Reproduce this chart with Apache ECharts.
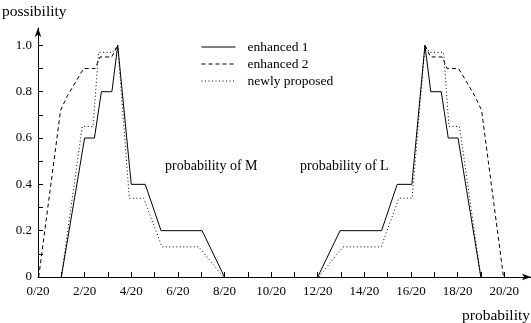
<!DOCTYPE html>
<html>
<head>
<meta charset="utf-8">
<script src="https://cdn.jsdelivr.net/npm/echarts@6/dist/echarts.min.js"></script>
<style>
html,body{margin:0;padding:0;background:#fff;}
#c{width:531px;height:323px;}
</style>
</head>
<body>
<div id="c"></div>
<script>
// x values in units of 1/20
var seriesNames = ['enhanced 1', 'enhanced 2', 'newly proposed'];

var enh1X = [1.0, 2.0, 2.42, 2.72, 3.17, 3.42, 4.0, 4.6, 5.28, 7.04, 8.0, null, 12.0, 12.96, 14.74, 15.41, 16.04, 16.6, 16.85, 17.3, 17.6, 18.02, 19.0];
var enh1Y = [0, 0.6, 0.6, 0.8, 0.8, 1.0, 0.4, 0.4, 0.2, 0.2, 0, null, 0, 0.2, 0.2, 0.4, 0.4, 1.0, 0.8, 0.8, 0.6, 0.6, 0];

var enh2X = [0.03, 0.97, 1.25, 1.6, 1.96, 2.45, 2.66, 3.16, 3.42, null, 16.6, 16.84, 17.34, 17.55, 18.04, 18.4, 18.75, 19.03, 19.97];
var enh2Y = [0, 0.72, 0.78, 0.84, 0.9, 0.9, 0.95, 0.95, 1.0, null, 1.0, 0.95, 0.95, 0.9, 0.9, 0.84, 0.78, 0.72, 0];

var newX = [1.0, 1.9, 2.36, 2.6, 3.2, 3.42, 3.92, 4.53, 5.32, 6.9, 7.95, null, 12.05, 13.08, 14.72, 15.48, 16.05, 16.6, 16.8, 17.4, 17.63, 18.08, 19.0];
var newY = [0, 0.65, 0.65, 0.97, 0.97, 1.0, 0.34, 0.34, 0.13, 0.13, 0, null, 0, 0.13, 0.13, 0.34, 0.34, 1.0, 0.97, 0.97, 0.65, 0.65, 0];

var xTickValues = [0,1,2,3,4,5,6,7,8,9,10,11,12,13,14,15,16,17,18,19,20];
var xLabelValues = [0,2,4,6,8,10,12,14,16,18,20];
var yTickValues = [0,0.1,0.2,0.3,0.4,0.5,0.6,0.7,0.8,0.9,1.0];
var yLabelValues = [0,0.2,0.4,0.6,0.8,1.0];

var yAxisTitle = 'possibility';
var xAxisTitle = 'probability';
var noteM = 'probability of M';
var noteL = 'probability of L';

function pairs(xs, ys) {
  var out = [];
  for (var i = 0; i < xs.length; i++) {
    out.push(xs[i] === null ? [null, null] : [xs[i], ys[i]]);
  }
  return out;
}

var FONT = 'Liberation Serif';
var chart = echarts.init(document.getElementById('c'), null, {renderer: 'canvas'});
chart.setOption({
  animation: false,
  backgroundColor: '#fff',
  grid: {left: 38, right: 0, top: 28, bottom: 46},
  xAxis: {
    type: 'value', min: 0, max: 21.15,
    axisLine: {show: true, lineStyle: {color: '#000', width: 1}, symbol: ['none', 'arrow'], symbolSize: [5, 9]},
    axisTick: {show: true, inside: true, length: 5, lineStyle: {color: '#000'}, customValues: xTickValues},
    axisLabel: {color: '#000', fontFamily: FONT, fontSize: 13, margin: 8, customValues: xLabelValues,
      formatter: function (v) { return v + '/20'; }},
    splitLine: {show: false}
  },
  yAxis: {
    type: 'value', min: 0, max: 1.075,
    axisLine: {show: true, lineStyle: {color: '#000', width: 1}, symbol: ['none', 'arrow'], symbolSize: [5, 9]},
    axisTick: {show: true, inside: true, length: 5, lineStyle: {color: '#000'}, customValues: yTickValues},
    axisLabel: {color: '#000', fontFamily: FONT, fontSize: 13, margin: 6, customValues: yLabelValues,
      formatter: function (v) { return v === 0 ? '0' : v.toFixed(1); }},
    splitLine: {show: false}
  },
  legend: {
    orient: 'vertical', left: 201, top: 40, padding: 0,
    itemWidth: 34, itemHeight: 11, itemGap: 3,
    itemStyle: {opacity: 0},
    lineStyle: {width: 1},
    textStyle: {color: '#000', fontFamily: FONT, fontSize: 13.5, lineHeight: 14, padding: [0, 0, 0, 7]},
    data: seriesNames
  },
  graphic: [
    {type: 'text', left: 2, top: 4, style: {text: yAxisTitle, font: '15.5px "Liberation Serif"', fill: '#000'}},
    {type: 'text', right: 1, top: 308, style: {text: xAxisTitle, font: '15.5px "Liberation Serif"', fill: '#000'}},
    {type: 'text', left: 165, top: 159, style: {text: noteM, font: '14px "Liberation Serif"', fill: '#000'}},
    {type: 'text', left: 300, top: 159, style: {text: noteL, font: '14px "Liberation Serif"', fill: '#000'}}
  ],
  series: [
    {name: seriesNames[0], type: 'line', symbol: 'none', connectNulls: false,
      lineStyle: {color: '#000', width: 1, type: 'solid'}, itemStyle: {color: '#000'},
      data: pairs(enh1X, enh1Y)},
    {name: seriesNames[1], type: 'line', symbol: 'none', connectNulls: false,
      lineStyle: {color: '#000', width: 1, type: [4, 3]}, itemStyle: {color: '#000'},
      data: pairs(enh2X, enh2Y)},
    {name: seriesNames[2], type: 'line', symbol: 'none', connectNulls: false,
      lineStyle: {color: '#000', width: 1, type: [1, 2.5]}, itemStyle: {color: '#000'},
      data: pairs(newX, newY)}
  ]
});
</script>
</body>
</html>
